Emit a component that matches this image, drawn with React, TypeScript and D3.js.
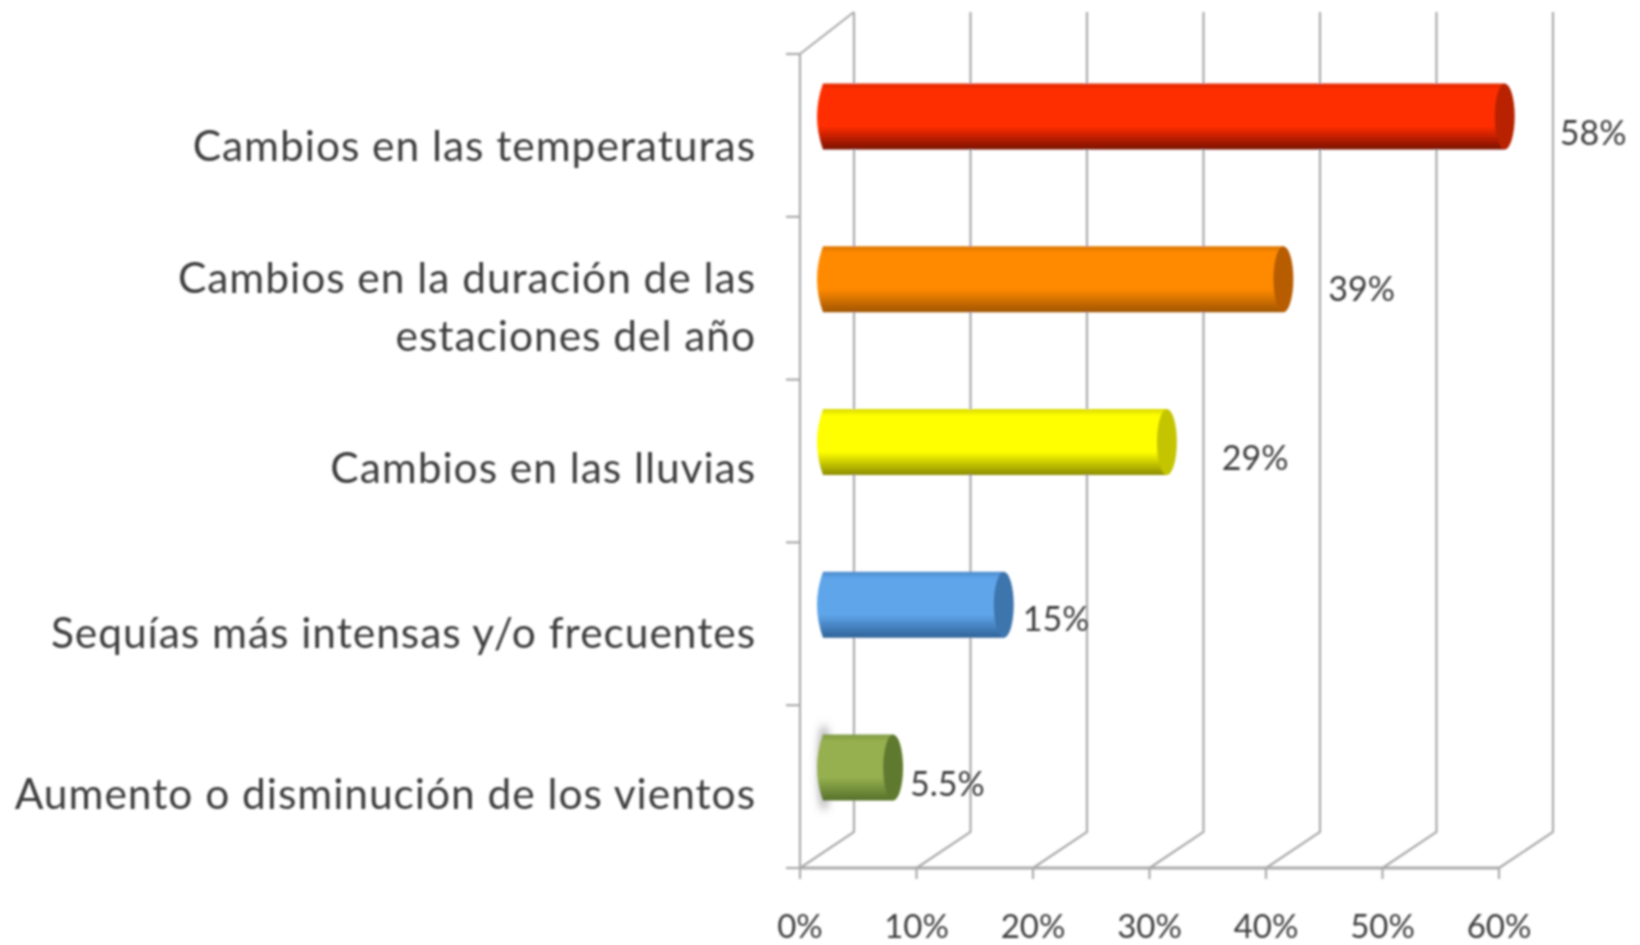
import React from 'react';
import * as d3 from 'd3';

const categories = [
  ['Cambios en las temperaturas'],
  ['Cambios en la duración de las', 'estaciones del año'],
  ['Cambios en las lluvias'],
  ['Sequías más intensas y/o frecuentes'],
  ['Aumento o disminución de los vientos'],
];
const values = [58, 39, 29, 15, 5.5];
const valueLabels = ['58%', '39%', '29%', '15%', '5.5%'];
const ticks = [0, 10, 20, 30, 40, 50, 60];
const barColors = [
  { top: '#e02800', main: '#ff2e00', low: '#7a1000', cap: '#b82000' },
  { top: '#d97500', main: '#ff8a00', low: '#a05500', cap: '#b85c00' },
  { top: '#d8d800', main: '#ffff00', low: '#8c8c00', cap: '#c4c400' },
  { top: '#4f8ccc', main: '#5ea5ea', low: '#2f6299', cap: '#3e74ad' },
  { top: '#7f9a45', main: '#96b04f', low: '#55702a', cap: '#5f7a2e' },
];

// excel put the value labels in odd spots, so nudge each one by hand
const labelNudge = [84, 74, 84, 48, 46];
const labelY = [145, 301, 470, 631, 796];
const categoryY = [161, 293, 483, 648, 809];

const W = 1640;
const H = 945;
const depthX = 54;
const depthY = 36;
const plot = { left: 800, right: 1499, top: 54, bottom: 868 };
const font = 'Lato, "Open Sans", sans-serif';

const x = d3.scaleLinear().domain([0, 60]).range([plot.left, plot.right]);
const band = d3
  .scaleBand<number>()
  .domain(d3.range(values.length))
  .range([plot.top, plot.bottom]);

const App = () => {
  const barH = 66;
  const capR = 10;
  const barStart = 16;
  const barEnd = 29;
  const barLift = 19;

  return (
    <svg
      width={W}
      height={H}
      viewBox={`0 0 ${W} ${H}`}
      style={{ position: 'absolute', left: 0, top: 0, background: '#fff' }}
    >
      <defs>
        <filter id="soft" filterUnits="userSpaceOnUse" x={0} y={0} width={W} height={H}>
          <feGaussianBlur stdDeviation="1" />
        </filter>
        <filter id="smudge" x="-200%" y="-20%" width="500%" height="140%">
          <feGaussianBlur stdDeviation="4" />
        </filter>
        {barColors.map((c, i) => (
          <linearGradient key={i} id={`bar${i}`} x1="0" y1="0" x2="0" y2="1">
            <stop offset="0" stopColor={c.top} />
            <stop offset="0.1" stopColor={c.main} />
            <stop offset="0.65" stopColor={c.main} />
            <stop offset="1" stopColor={c.low} />
          </linearGradient>
        ))}
      </defs>

      <g filter="url(#soft)">
        {/* back wall and floor */}
        {ticks.map((t) => (
          <g key={t} stroke="#aaaaaa" strokeWidth={2.2} fill="none">
            <path
              d={d3.line()([
                [x(t), plot.bottom],
                [x(t) + depthX, plot.bottom - depthY],
                [x(t) + depthX, plot.top - 42],
              ]) as string}
            />
            <line x1={x(t)} x2={x(t)} y1={plot.bottom} y2={plot.bottom + 11} />
          </g>
        ))}
        <g stroke="#aaaaaa" strokeWidth={2.2} fill="none">
          <line x1={plot.left} x2={plot.left} y1={plot.top} y2={plot.bottom} />
          <line x1={plot.left} x2={plot.right} y1={plot.bottom} y2={plot.bottom} strokeWidth={3} />
          <line x1={plot.left} x2={plot.left + depthX} y1={plot.top} y2={plot.top - 42} />
          {d3.range(values.length + 1).map((i) => {
            const y = plot.top + (i * (plot.bottom - plot.top)) / values.length;
            return <line key={i} x1={plot.left - 14} x2={plot.left} y1={y} y2={y} />;
          })}
        </g>

        {/* cylinders */}
        {values.map((v, i) => {
          const x0 = x(0) + barStart;
          const x1 = x(v) + barEnd;
          const mid = (band(i) as number) + band.bandwidth() / 2 - barLift;
          const top = mid - barH / 2;
          const bot = mid + barH / 2;
          const body = `M${x0 + 7},${top} L${x1},${top} L${x1},${bot} L${x0 + 7},${bot} Q${x0 - 5},${mid} ${x0 + 7},${top} Z`;
          return (
            <g key={i}>
              {i === values.length - 1 && (
                <ellipse
                  cx={x0 + 8}
                  cy={mid}
                  rx={5}
                  ry={barH / 2 + 10}
                  fill="#999"
                  filter="url(#smudge)"
                />
              )}
              <path d={body} fill={`url(#bar${i})`} />
              <ellipse cx={x1} cy={mid} rx={capR} ry={barH / 2} fill={barColors[i].cap} />
            </g>
          );
        })}

        {/* value labels */}
        {values.map((v, i) => (
          <text
            key={i}
            x={x(v) + labelNudge[i]}
            y={labelY[i]}
            fontFamily={font}
            fontSize={34}
            fill="#3c3c3c"
          >
            {valueLabels[i]}
          </text>
        ))}

        {/* axis labels */}
        {ticks.map((t) => (
          <text
            key={t}
            x={x(t)}
            y={938}
            textAnchor="middle"
            fontFamily={font}
            fontSize={33}
            fill="#3c3c3c"
          >
            {t}%
          </text>
        ))}

        {categories.map((lines, i) => (
          <text
            key={i}
            x={756}
            y={categoryY[i]}
            textAnchor="end"
            fontFamily={font}
            fontSize={42.5}
            letterSpacing={0.95}
            fill="#3c3c3c"
          >
            {lines.map((l, j) => (
              <tspan key={j} x={756} dy={j === 0 ? 0 : 58}>
                {l}
              </tspan>
            ))}
          </text>
        ))}
      </g>
    </svg>
  );
};

export default App;
